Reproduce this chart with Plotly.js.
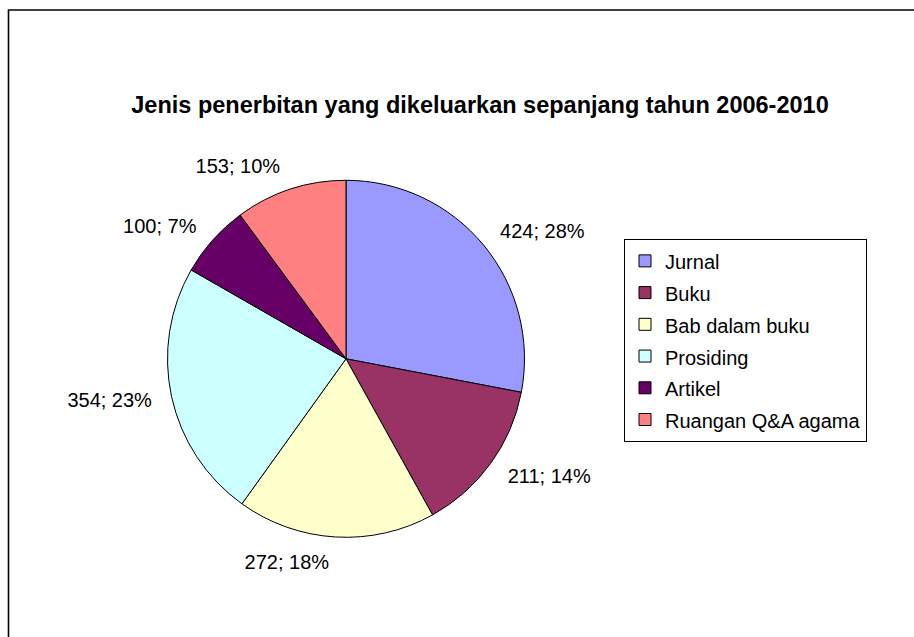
<!DOCTYPE html>
<html>
<head>
<meta charset="utf-8">
<script src="https://cdn.plot.ly/plotly-3.0.1.min.js"></script>
<style>html,body{margin:0;padding:0;background:#fff;}#chart{width:914px;height:637px;}</style>
</head>
<body>
<div id="chart"></div>
<script>
var labels = ["Jurnal", "Buku", "Bab dalam buku", "Prosiding", "Artikel", "Ruangan Q&A agama"];
var values = [424, 211, 272, 354, 100, 153];
var colors = ["#9999FF", "#993366", "#FFFFCC", "#CCFFFF", "#660066", "#FF8080"];
var titleText = "Jenis penerbitan yang dikeluarkan sepanjang tahun 2006-2010";

var W = 914, H = 637;
var cx = 346, cy = 358.8, R = 178.5;
var labelPull = 0.08;
var FONT = "Liberation Sans, Arial, sans-serif";

function domainFor(r) {
  return {x: [(cx - r) / W, (cx + r) / W], y: [1 - (cy + r) / H, 1 - (cy - r) / H]};
}

var legendLabels = labels.map(function (l) {
  return '<span style="font-size:20px">' + l.replace(/&/g, "&amp;") + '</span>';
});

var pieTrace = {
  type: "pie",
  labels: legendLabels,
  values: values,
  sort: false,
  direction: "clockwise",
  rotation: 0,
  marker: {colors: colors, line: {color: "#000000", width: 1}},
  textinfo: "none",
  domain: domainFor(R),
  automargin: false
};

var labelTrace = {
  type: "pie",
  labels: legendLabels,
  values: values,
  sort: false,
  direction: "clockwise",
  rotation: 0,
  pull: labelPull,
  showlegend: false,
  marker: {colors: labels.map(function () { return "rgba(0,0,0,0)"; }), line: {width: 0}},
  textposition: "outside",
  texttemplate: "%{value}; %{percent:.0%}",
  textfont: {family: FONT, size: 20, color: "#000000"},
  domain: domainFor(R * (1 + labelPull)),
  automargin: false
};

var layout = {
  width: W, height: H,
  margin: {l: 0, r: 0, t: 0, b: 0},
  paper_bgcolor: "#ffffff",
  showlegend: true,
  title: {
    text: "<b>" + titleText + "</b>",
    font: {family: FONT, size: 23.5, color: "#000000"},
    x: 480 / W, xanchor: "center", xref: "paper",
    y: 1 - 105 / H, yanchor: "middle", yref: "paper"
  },
  legend: {
    x: 624 / W, xanchor: "left",
    y: 1 - 239 / H, yanchor: "top",
    bordercolor: "#000000", borderwidth: 1,
    bgcolor: "#ffffff",
    font: {family: FONT, size: 22.1, color: "#000000"}
  },
  shapes: [{
    type: "rect", xref: "paper", yref: "paper",
    x0: 8.5 / W, x1: 1.05, y0: -0.05, y1: 1 - 10 / H,
    line: {color: "#000000", width: 1.6}, fillcolor: "rgba(0,0,0,0)", layer: "above"
  }]
};

Plotly.newPlot("chart", [pieTrace, labelTrace], layout, {displayModeBar: false, staticPlot: true});
</script>
</body>
</html>
